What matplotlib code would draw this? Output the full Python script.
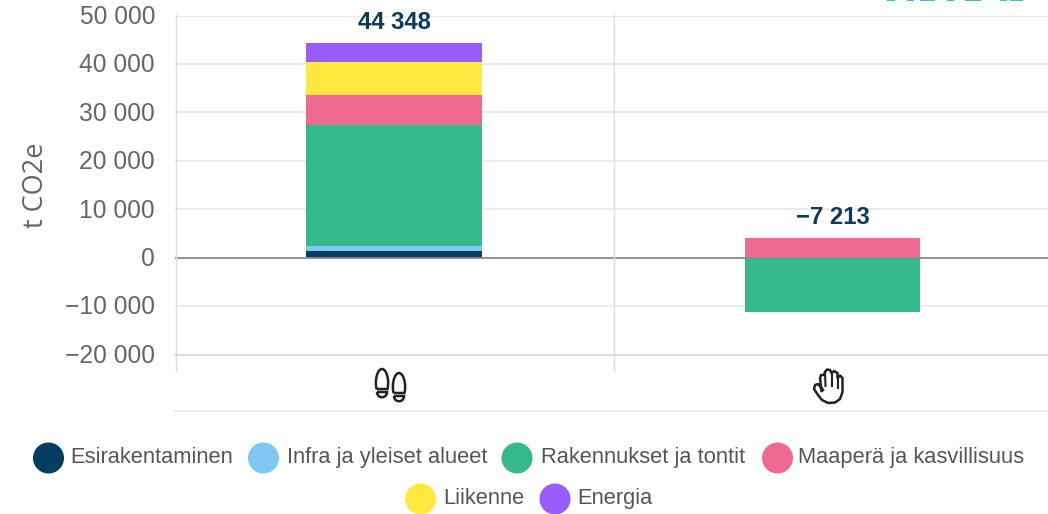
import numpy as np
import matplotlib
matplotlib.use('Agg')
import matplotlib.pyplot as plt
from matplotlib.patches import Circle, PathPatch
from matplotlib.path import Path
from matplotlib.transforms import Affine2D, ScaledTranslation

W, H = 1048, 514

categories = [0, 1]
totals = ['44 348', '\u22127 213']
series_names = ['Esirakentaminen', 'Infra ja yleiset alueet', 'Rakennukset ja tontit',
                'Maaperä ja kasvillisuus', 'Liikenne', 'Energia']
esirakentaminen = [1340, 0]
infra = [1160, 0]
rakennukset = [24800, -11250]
maapera = [6270, 4037]
liikenne = [6880, 0]
energia = [3898, 0]
series_values = [esirakentaminen, infra, rakennukset, maapera, liikenne, energia]
series_colors = ['#023e5f', '#7fc8f2', '#36b98a', '#ee6a92', '#ffe940', '#9a5cff']
y_ticks = [-20000, -10000, 0, 10000, 20000, 30000, 40000, 50000]
y_labels = ['\u221220 000', '\u221210 000', '0', '10 000', '20 000', '30 000', '40 000', '50 000']

plt.rcParams['font.family'] = ['Liberation Sans', 'DejaVu Sans']

fig = plt.figure(figsize=(W / 100, H / 100), dpi=100)
# pixel coordinates of the reference, y pointing down
px = Affine2D().scale(1 / W, -1 / H).translate(0, 1) + fig.transFigure

ax = fig.add_axes([175 / W, 1 - 354.5 / H, (W - 175) / W, (354.5 - 15.5) / H])
ax.set_xlim(-0.5, 1.492)
ax.set_ylim(-20000, 50000)
for side in ax.spines.values():
    side.set_visible(False)
ax.set_yticks(y_ticks)
ax.set_yticklabels(y_labels, fontsize=17.7, color='#666666')
ax.tick_params(axis='y', length=0, pad=14.4)
# labels sit a little above the gridlines in the reference
for lab in ax.get_yticklabels():
    lab.set_transform(lab.get_transform() + ScaledTranslation(0, 1.2 / 100, fig.dpi_scale_trans))
ax.set_xticks([])
ax.grid(axis='y', color='#e6e6e6', linewidth=1.1)
ax.set_axisbelow(True)

# stacked bars, positive and negative piles apart
pos = np.zeros(2)
neg = np.zeros(2)
for name, vals, col in zip(series_names, series_values, series_colors):
    vals = np.array(vals, dtype=float)
    base = np.where(vals >= 0, pos, neg)
    ax.bar(categories, vals, bottom=base, width=0.4, color=col, linewidth=0, zorder=2)
    pos += np.clip(vals, 0, None)
    neg += np.clip(vals, None, 0)

ax.axhline(0, color='#8c8c8c', linewidth=1.3, zorder=3)

for x, top, lab in zip(categories, pos, totals):
    ax.annotate(lab, (x, top), xytext=(0, 15), textcoords='offset points', ha='center', va='center',
                fontsize=17.2, fontweight='bold', color='#0e3a56')

fig.text(36 / W, 1 - 185 / H, 't CO2e', rotation=90, ha='center', va='center', fontsize=19.5,
         color='#666666', family=['Open Sans', 'DejaVu Sans'])

# band borders and axis lines
fig.add_artist(plt.Line2D([175.5, 175.5], [15, 371], transform=px, color='#dddddd', lw=1))
fig.add_artist(plt.Line2D([613.5, 613.5], [15, 371], transform=px, color='#dddddd', lw=1))
fig.add_artist(plt.Line2D([175, W], [354.5, 354.5], transform=px, color='#d8d8d8', lw=1.2))
fig.add_artist(plt.Line2D([175, W], [410.5, 410.5], transform=px, color='#e6e6e6', lw=1.2))

# bottom edge of the cropped heading, top right
for x0, x1 in [(888, 894), (908, 913), (921, 934), (948, 953), (966, 980), (1001, 1006), (1011, 1022)]:
    fig.add_artist(plt.Line2D([x0, x1], [0.4, 0.4], transform=px, color='#35b5e5', lw=1.4))


def sole(cx, y1, y2, hw):
    verts = [(cx - hw + 1, y2), (cx - hw - 1, y2 - 9), (cx - hw + 2, y1), (cx, y1),
             (cx + hw - 2, y1), (cx + hw + 1, y2 - 9), (cx + hw - 1, y2), (cx - hw + 1, y2)]
    codes = [Path.MOVETO] + [Path.CURVE4] * 6 + [Path.LINETO]
    return PathPatch(Path(verts, codes), transform=px, fill=False, ec='#222222', lw=1.8)


def heel(cx, y1, y2, hw):
    verts = [(cx - hw, y1), (cx - hw, y2 + 1), (cx + hw, y2 + 1), (cx + hw, y1), (cx - hw, y1)]
    codes = [Path.MOVETO, Path.CURVE4, Path.CURVE4, Path.CURVE4, Path.LINETO]
    return PathPatch(Path(verts, codes), transform=px, fill=False, ec='#222222', lw=1.8)


icon = '#222222'
fig.add_artist(sole(382, 369, 389, 6.5))
fig.add_artist(heel(382, 392, 398, 5))
fig.add_artist(sole(399, 373, 393, 6.5))
fig.add_artist(heel(399, 396, 402, 5))

hand = [(823, 390), (818, 384), (815, 385), (814, 389), (818, 395), (822, 400), (828, 403),
        (835, 402.5), (840, 399), (842.5, 392), (842.5, 378), (840, 375.5), (837.5, 378),
        (837.5, 373), (834, 371), (831.5, 373), (830, 370), (827, 369.5), (825, 372), (824, 375),
        (821, 375), (820, 378), (821.5, 391)]
fig.add_artist(plt.Line2D(*zip(*hand), transform=px, color=icon, lw=1.8, solid_joinstyle='round'))
fig.add_artist(plt.Line2D([825, 825.5], [372, 386], transform=px, color=icon, lw=1.5))
fig.add_artist(plt.Line2D([831.5, 831.5], [373, 386], transform=px, color=icon, lw=1.5))
fig.add_artist(plt.Line2D([837.5, 837.5], [378, 388], transform=px, color=icon, lw=1.5))

# legend
legend_pos = [(48.5, 458), (263.5, 458), (517, 458), (777.5, 458), (420.5, 499), (555, 499)]
legend_text_x = [70, 287, 541, 798, 443, 577]
for name, col, (cx, cy), tx in zip(series_names, series_colors, legend_pos, legend_text_x):
    fig.add_artist(Circle((cx, cy), 15.5, transform=px, color=col, lw=0))
    fig.text(tx / W, 1 - (cy + 5) / H, name, ha='left', va='baseline', fontsize=15.75, color='#555555')

fig.savefig('out.png', dpi=100)
